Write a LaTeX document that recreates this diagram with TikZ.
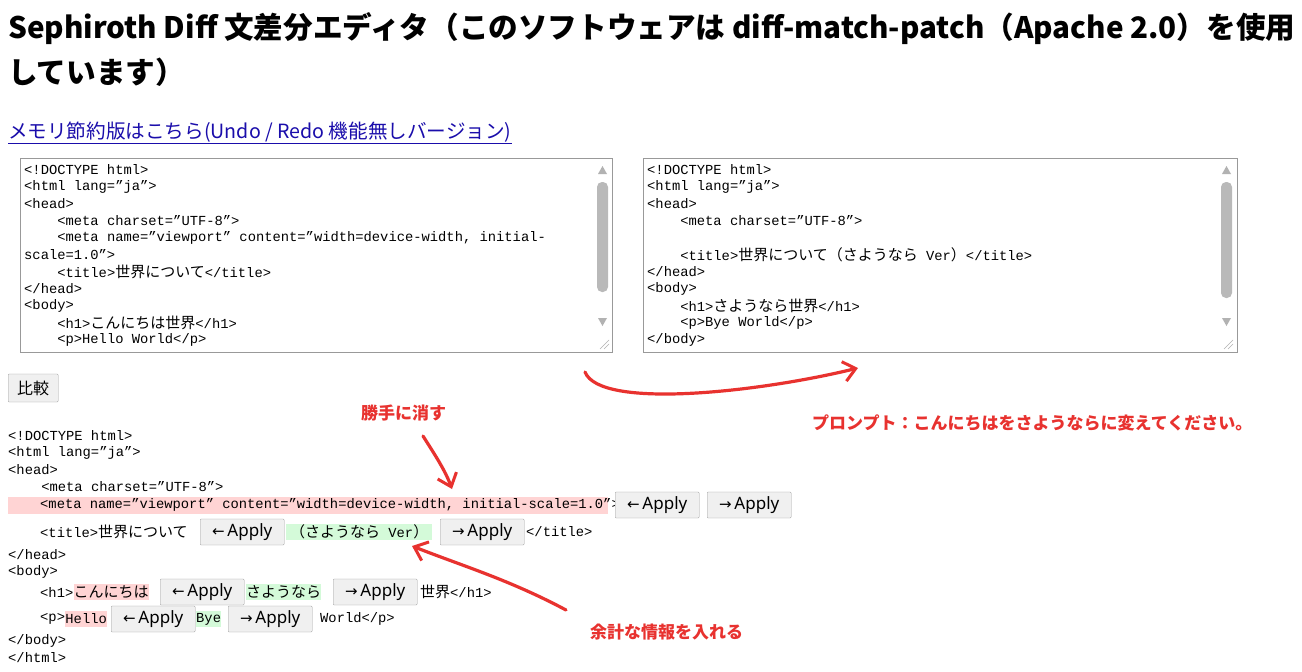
\documentclass[tikz,border=0pt]{standalone}
\usepackage{fontspec}
\setmainfont{Noto Sans}
\newfontfamily\cjk{Noto Sans CJK JP}
\newfontfamily\mono{Liberation Mono}
\newfontfamily\sym{DejaVu Sans}
\usetikzlibrary{positioning,arrows.meta}
\definecolor{delpink}{HTML}{FFD4D4}
\definecolor{addgreen}{HTML}{D4FAD9}
\definecolor{annored}{HTML}{E8322F}
\definecolor{linkblue}{HTML}{1A0DAB}
\newcommand{\codefont}{\mono\fontsize{13.8}{17}\selectfont}
\newcommand{\jp}[1]{{\cjk\fontsize{15}{17}\selectfont #1}}
\newcommand{\la}{{\sym\fontsize{15}{17}\selectfont ←}}
\newcommand{\ra}{{\sym\fontsize{15}{17}\selectfont →}}
\tikzset{code/.style={anchor=west, inner sep=0, font=\codefont, minimum height=16}}
\tikzset{btn/.style={anchor=west, draw=gray!75, fill=gray!12, rounded corners=1, minimum height=26, minimum width=84, inner sep=0, font=\fontsize{17}{20}\selectfont}}
\tikzset{textbox/.style={draw=gray!80, fill=white}}
\tikzset{thumb/.style={fill=gray!55, rounded corners=5}}
\tikzset{anno/.style={anchor=west, inner sep=0, text=annored, font=\cjk\bfseries\fontsize{17}{20}\selectfont}}
\tikzset{redarr/.style={draw=annored, line width=3.2, line cap=round, -{Straight Barb[length=12pt,width=20pt,line width=3pt]}}}
\begin{document}
\begin{tikzpicture}[x=1pt, y=-1pt]
\useasboundingbox[fill=white] (0,0) rectangle (1302,672);
% title and link
\node[anchor=west, inner sep=0, font=\cjk\bfseries\fontsize{29.6}{34}\selectfont] (title1) at (8,29)
  {Sephiroth Diff 文差分エディタ（このソフトウェアは diff-match-patch（Apache 2.0）を使用};
\node[anchor=west, inner sep=0, font=\cjk\bfseries\fontsize{29.6}{34}\selectfont] (title2) at (8,72) {しています）};
\node[anchor=west, inner sep=0, text=linkblue, font=\cjk\fontsize{19.6}{22}\selectfont] (link) at (8,133)
  {\underline{メモリ節約版はこちら(Undo / Redo 機能無しバージョン)}};
% left text area
\draw[textbox] (20,158) rectangle (612,352);
\fill[thumb] (597,182) rectangle (608,292);
\fill[gray!60] (598,174) -- (607,174) -- (602.5,166) -- cycle;
\fill[gray!60] (598,318) -- (607,318) -- (602.5,326) -- cycle;
\draw[gray!60] (600,349) -- (609,340) (604,349) -- (609,344);
\foreach \t [count=\i] in {<!DOCTYPE html>, <html lang=”ja”>, <head>,
  {\ \ \ \ <meta charset=”UTF-8”>}, {\ \ \ \ <meta name=”viewport” content=”width=device-width, initial-},
  {scale=1.0”>}, {\ \ \ \ <title>\jp{世界について}</title>}, </head>, <body>,
  {\ \ \ \ <h1>\jp{こんにちは世界}</h1>}, {\ \ \ \ <p>Hello World</p>}}
  \node[code] (left\i) at (24,153+17*\i) {\t};
% right text area
\draw[textbox] (643,158) rectangle (1237,352);
\fill[thumb] (1221,182) rectangle (1232,298);
\fill[gray!60] (1222,174) -- (1231,174) -- (1226.5,166) -- cycle;
\fill[gray!60] (1222,318) -- (1231,318) -- (1226.5,326) -- cycle;
\draw[gray!60] (1224,349) -- (1233,340) (1228,349) -- (1233,344);
\foreach \t [count=\i] in {<!DOCTYPE html>, <html lang=”ja”>, <head>,
  {\ \ \ \ <meta charset=”UTF-8”>}, {}, {\ \ \ \ <title>\jp{世界について（さようなら} Ver\jp{）}</title>},
  </head>, <body>, {\ \ \ \ <h1>\jp{さようなら世界}</h1>}, {\ \ \ \ <p>Bye World</p>}, </body>}
  \node[code] (right\i) at (647,153+17*\i) {\t};
% compare button
\node[btn, minimum width=50, minimum height=28, font=\cjk\fontsize{16}{20}\selectfont] (compare) at (8,388) {比較};
% diff result
\foreach \t [count=\i] in {<!DOCTYPE html>, <html lang=”ja”>, <head>, {\ \ \ \ <meta charset=”UTF-8”>}}
  \node[code] (out\i) at (8,419+17*\i) {\t};
\fill[delpink] (8,497) rectangle (608,514);
\node[code] (meta) at (40,505) {<meta name=”viewport” content=”width=device-width, initial-scale=1.0”>};
\node[btn] (metaL) at (615,505) {\la\,Apply};
\node[btn] (metaR) at (707,505) {\ra\,Apply};
\node[code] (tiA) at (40,532) {<title>\jp{世界について}};
\node[btn] (tiL) at (200,532) {\la\,Apply};
\node[code, fill=addgreen, minimum width=146] (tiAdd) at (286,532) {\jp{（さようなら} Ver\jp{）}};
\node[btn] (tiR) at (440,532) {\ra\,Apply};
\node[code] (tiB) at (526,532) {</title>};
\node[code] (headEnd) at (8,555) {</head>};
\node[code] (body) at (8,572) {<body>};
\node[code] (hA) at (40,592) {<h1>};
\node[code, fill=delpink] (hDel) at (hA.east) {\jp{こんにちは}};
\node[btn] (hL) at (160,592) {\la\,Apply};
\node[code, fill=addgreen] (hAdd) at (246,592) {\jp{さようなら}};
\node[btn] (hR) at (333,592) {\ra\,Apply};
\node[code] (hB) at (420,592) {\jp{世界}</h1>};
\node[code] (pA) at (40,619) {<p>};
\node[code, fill=delpink] (pDel) at (pA.east) {Hello};
\node[btn] (pL) at (111,619) {\la\,Apply};
\node[code, fill=addgreen] (pAdd) at (196,619) {Bye};
\node[btn] (pR) at (228,619) {\ra\,Apply};
\node[code] (pB) at (320,619) {World</p>};
\node[code] (bodyEnd) at (8,641) {</body>};
\node[code] (htmlEnd) at (8,658) {</html>};
% annotations
\node[anno] (noteDel) at (361,413) {勝手に消す};
\node[anno] (notePrompt) at (812,423) {プロンプト：こんにちはをさようならに変えてください。};
\node[anno] (noteAdd) at (590,632) {余計な情報を入れる};
\coordinate (pStart) at (585,372);
\coordinate (pEnd) at (858,368);
\coordinate (dStart) at (423,436);
\coordinate (dEnd) at (452,489);
\coordinate (aStart) at (566,610);
\coordinate (aEnd) at (412,546);
\draw[redarr] (pStart) .. controls (600,410) and (760,392) .. (pEnd);
\draw[redarr] (dStart) .. controls (435,455) and (445,470) .. (dEnd);
\draw[redarr] (aStart) .. controls (510,580) and (460,565) .. (aEnd);
\end{tikzpicture}
\end{document}
